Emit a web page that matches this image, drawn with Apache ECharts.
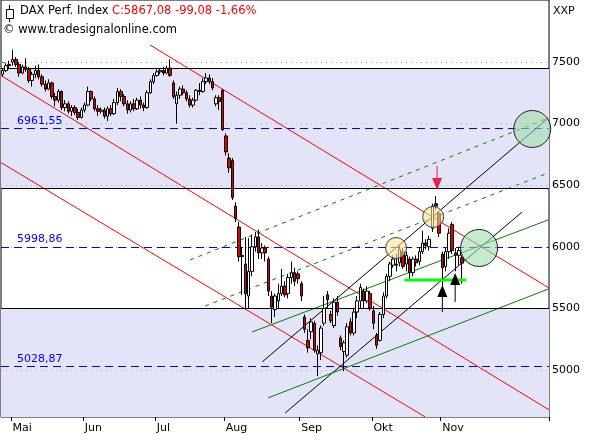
<!DOCTYPE html>
<html>
<head>
<meta charset="utf-8">
<script src="https://cdn.jsdelivr.net/npm/echarts@6/dist/echarts.min.js"></script>
<style>
  html, body { margin: 0; padding: 0; background: #fff; }
  #chart { width: 595px; height: 440px; }
</style>
</head>
<body>
<div id="chart"></div>
<script>
// trading days per month, first month is the tail of April
const months = ['', 'Mai', 'Jun', 'Jul', 'Aug', 'Sep', 'Okt', 'Nov', ''];
const monthDays = [3, 22, 22, 21, 23, 22, 21, 22, 11];

// [open, close, low, high]
const candles = [
  [7400,7430,7380,7450],[7430,7470,7420,7490],[7470,7480,7440,7510],
  // Mai
  [7500,7520,7470,7600],[7520,7480,7460,7540],[7480,7410,7380,7500],[7410,7460,7400,7480],[7460,7440,7420,7530],
  [7440,7350,7330,7460],[7350,7400,7300,7420],[7400,7430,7370,7470],[7430,7380,7360,7480],[7380,7320,7300,7400],
  [7320,7280,7260,7350],[7280,7330,7270,7360],[7330,7220,7200,7340],[7220,7190,7140,7250],[7190,7260,7170,7280],
  [7260,7130,7110,7270],[7130,7160,7100,7190],[7160,7100,7080,7180],[7100,7130,7060,7150],[7130,7090,7070,7150],
  [7090,7050,7030,7120],[7050,7110,7040,7130],
  // Jun
  [7110,7150,7090,7170],[7150,7260,7140,7300],[7260,7200,7180,7270],[7200,7120,7100,7220],[7120,7100,7060,7150],
  [7100,7110,7080,7130],[7110,7060,7040,7130],[7060,7120,7020,7140],[7120,7080,7060,7150],[7080,7170,7070,7200],
  [7170,7260,7150,7290],[7260,7220,7180,7280],[7220,7160,7140,7240],[7160,7110,7080,7190],[7110,7160,7090,7180],
  [7160,7120,7100,7200],[7120,7190,7110,7210],[7190,7150,7120,7220],[7150,7130,7100,7170],[7130,7250,7120,7270],
  [7250,7340,7240,7360],[7340,7390,7320,7410],
  // Jul
  [7390,7420,7380,7440],[7420,7430,7400,7450],[7430,7410,7390,7460],[7410,7450,7400,7470],[7450,7390,7380,7520],
  [7330,7220,7200,7350],[7160,7230,7000,7260],[7230,7280,7200,7300],[7280,7250,7230,7310],[7250,7200,7180,7270],
  [7200,7150,7130,7230],[7150,7190,7130,7210],[7190,7270,7180,7280],[7270,7260,7230,7330],[7260,7340,7250,7370],
  [7340,7370,7320,7410],[7370,7340,7320,7400],[7340,7290,7270,7370],[7160,7210,7140,7230],[7210,7180,7110,7230],
  [7270,6950,6940,7280],
  // Aug
  [6900,6770,6740,6920],[6720,6640,6600,6760],[6700,6400,6380,6720],[6330,6230,6200,6360],[6160,5920,5880,6200],
  [5920,5930,5610,6000],[5860,5620,5500,6080],[5600,5800,5500,6070],[5800,6000,5760,6100],[6000,6080,5960,6120],
  [6080,5950,5900,6140],[5950,5990,5900,6030],[5990,5950,5880,6010],[5900,5640,5600,5920],[5600,5510,5380,5640],
  [5490,5600,5430,5620],[5560,5620,5500,5700],[5620,5680,5600,5820],[5680,5610,5590,5720],[5620,5750,5580,5780],
  [5750,5790,5700,5880],[5790,5720,5680,5830],[5780,5740,5700,5800],
  // Sep
  [5700,5600,5560,5720],[5430,5330,5300,5450],[5240,5180,5140,5330],[5310,5390,5250,5420],[5380,5160,5140,5400],
  [5130,5160,4950,5200],[5140,5340,5080,5360],[5380,5500,5360,5600],[5610,5570,5500,5640],[5450,5400,5380,5480],
  [5360,5550,5340,5580],[5550,5470,5440,5600],[5260,5190,5160,5280],[5150,5220,4990,5240],[5120,5350,5100,5380],
  [5390,5300,5280,5420],[5300,5470,5280,5500],[5470,5560,5420,5600],[5560,5670,5500,5700],[5640,5560,5500,5660],
  [5560,5640,5540,5680],[5620,5500,5480,5640],
  // Okt
  [5480,5380,5330,5520],[5280,5200,5170,5300],[5240,5450,5230,5470],[5450,5600,5420,5630],[5600,5760,5580,5780],
  [5760,5860,5720,5880],[5850,5900,5830,5930],[5860,5850,5800,5940],[5870,5980,5840,6010],[5960,5840,5820,5990],
  [5860,5930,5800,5960],[5900,5790,5740,5920],[5790,5900,5760,5920],[5900,5870,5840,5930],[5880,5960,5850,5990],
  [5960,6030,5940,6130],[6030,6010,5980,6060],[6000,6060,5970,6090],[6150,6330,6120,6350],[6350,6330,6300,6410],
  [6270,6110,6080,6290],
  // Nov
  [5940,5830,5640,5960],[5840,5960,5800,5990],[5960,6110,5900,6150],[6180,5970,5940,6200],[5950,5930,5800,5990],
  [5930,5970,5850,6000],[5910,5867,5700,5930]
];

const yTicks = [5000, 5500, 6000, 6500, 7000, 7500];
const levels = [6961.55, 5998.86, 5028.87];
const bandLines = [7445, 6475, 5500];
const bands = [[6475, 7445], [4618, 5500]];

// trend lines as [slot, price] pairs (slot = trading-day position on the axis)
const redLines = [[[45.4, 7638], [167, 5665]], [[0, 7390], [167, 4676]], [[0, 6683], [129.3, 4618]]];
const greenDashed = [[[57.6, 5893], [166.8, 7045]], [[62.2, 5519], [166.8, 6599]]];
const blackLines = [[[79.6, 5065], [166.8, 7045]], [[86.6, 4651], [158.8, 6282]]];
const greenLines = [[[76.5, 5308], [166.8, 6218]], [[81.4, 4773], [166.8, 5657]]];
const support = [[122.9, 5731], [141.8, 5731]];
const yellowCircles = [[120.4, 5990], [131.7, 6242]];
const greenCircles = [[145.7, 5990], [161.9, 6956]];
const redArrow = { shaft: [[132.9, 6656], [132.9, 6540]], head: [132.9, 6510] };
const blackArrows = [
  { shaft: [[134.5, 5641], [134.5, 5471]], head: [134.5, 5641] },
  { shaft: [[138.4, 5739], [138.4, 5552]], head: [138.4, 5739] }
];

const cats = [];
months.forEach((m, k) => {
  for (let d = 0; d < monthDays[k]; d++) cats.push(d === 0 ? m : ' ' + k + '-' + d);
});
const isMonth = (i, v) => months.indexOf(v) > 0;

const font = 'DejaVu Sans';

function seg(points, color, type, width, z) {
  return {
    type: 'line', xAxisIndex: 1, yAxisIndex: 0, data: points,
    showSymbol: false, silent: true, z: z || 3, animation: false,
    lineStyle: { color: color, width: width || 1, type: type || 'solid' }
  };
}

function hLines(values, style, label, z) {
  return {
    type: 'line', xAxisIndex: 1, data: [], silent: true, z: z, animation: false,
    markLine: {
      silent: true, symbol: 'none', animation: false, lineStyle: style,
      label: label || { show: false },
      data: values.map(v => ({ yAxis: v }))
    }
  };
}

const series = [{
  type: 'candlestick',
  data: candles,
  barWidth: 3,
  z: 5,
  itemStyle: { color: '#ffffff', color0: '#e00000', borderColor: '#000', borderColor0: '#000', borderWidth: 1 },
  markArea: {
    silent: true,
    itemStyle: { color: '#e4e4f8' },
    data: bands.map(b => [{ yAxis: b[0] }, { yAxis: b[1] }])
  }
}];

series.push(hLines(yTicks, { color: '#b0b0b0', type: [1, 4], width: 1 }, null, 2));
series.push(hLines(bandLines, { color: '#000', type: 'solid', width: 1 }, null, 2));
series.push(hLines(levels, { color: '#0000ff', type: [8, 5], width: 1 }, {
  show: true, position: 'insideStartTop', color: '#0000ff', fontFamily: font, fontSize: 11, distance: [16, 2],
  formatter: p => p.value.toFixed(2).replace('.', ',')
}, 2));
redLines.forEach(l => series.push(seg(l, '#ff0000')));
greenDashed.forEach(l => series.push(seg(l, '#008000', [4, 5])));
blackLines.forEach(l => series.push(seg(l, '#000000')));
greenLines.forEach(l => series.push(seg(l, '#008000')));
series.push(seg(support, '#00ff00', 'solid', 3, 6));
series.push(seg(redArrow.shaft, '#e8204a', 'solid', 1, 6));
blackArrows.forEach(a => series.push(seg(a.shaft, '#000', 'solid', 1, 6)));
series.push({
  type: 'scatter', xAxisIndex: 1, data: [redArrow.head], symbol: 'triangle', symbolRotate: 180,
  symbolSize: [10, 12], itemStyle: { color: '#e8204a', opacity: 1 }, z: 7, silent: true, animation: false
});
series.push({
  type: 'scatter', xAxisIndex: 1, data: blackArrows.map(a => a.head), symbol: 'triangle',
  symbolSize: [10, 12], itemStyle: { color: '#000', opacity: 1 }, z: 7, silent: true, animation: false
});
series.push({
  type: 'scatter', xAxisIndex: 1, data: yellowCircles, symbolSize: 21, z: 8, silent: true, animation: false,
  itemStyle: { color: 'rgba(248,228,150,0.6)', borderColor: '#444', borderWidth: 1, opacity: 1 }
});
series.push({
  type: 'scatter', xAxisIndex: 1, data: greenCircles, symbolSize: 37, z: 8, silent: true, animation: false,
  itemStyle: { color: 'rgba(160,220,170,0.6)', borderColor: '#222', borderWidth: 1, opacity: 1 }
});

const chart = echarts.init(document.getElementById('chart'), null, { renderer: 'canvas' });
chart.setOption({
  animation: false,
  backgroundColor: '#fff',
  grid: { left: 1, right: 46, top: 0, bottom: 23, show: true, borderColor: '#000', borderWidth: 1, backgroundColor: 'transparent' },
  xAxis: [{
    type: 'category', data: cats, boundaryGap: true,
    axisLine: { show: false },
    axisTick: { show: true, interval: isMonth, length: 4, lineStyle: { color: '#000' } },
    axisLabel: { interval: isMonth, align: 'left', margin: 6, color: '#000', fontFamily: font, fontSize: 11 },
    splitLine: { show: false }
  }, {
    type: 'value', min: 0, max: 167, show: false
  }],
  yAxis: {
    type: 'value', position: 'right', min: 4618, max: 8003, scale: true,
    axisLine: { show: false },
    axisTick: { show: true, length: 4, customValues: yTicks, lineStyle: { color: '#666' } },
    axisLabel: { customValues: yTicks, margin: 3, color: '#000', fontFamily: font, fontSize: 11, formatter: v => String(v) },
    splitLine: { show: false }
  },
  graphic: [
    { type: 'rect', left: 6, top: 9, shape: { width: 7, height: 9 }, style: { fill: '#fff', stroke: '#000', lineWidth: 1 }, z: 20 },
    { type: 'line', shape: { x1: 9.5, y1: 5, x2: 9.5, y2: 22 }, style: { stroke: '#000', lineWidth: 1 }, z: 19 },
    {
      type: 'text', left: 20, top: 5, z: 20,
      style: {
        text: '{a|DAX Perf. Index} {b|C:5867,08 -99,08 -1,66%}',
        rich: {
          a: { fill: '#000', fontFamily: font, fontSize: 11.5 },
          b: { fill: '#ff0000', fontFamily: font, fontSize: 11.5 }
        }
      }
    },
    { type: 'text', left: 3, top: 24, z: 20, style: { text: '© www.tradesignalonline.com', fill: '#000', fontFamily: font, fontSize: 11.5 } },
    { type: 'text', left: 553, top: 6, z: 20, style: { text: 'XXP', fill: '#000', fontFamily: font, fontSize: 11 } }
  ],
  series: series
});
</script>
</body>
</html>
